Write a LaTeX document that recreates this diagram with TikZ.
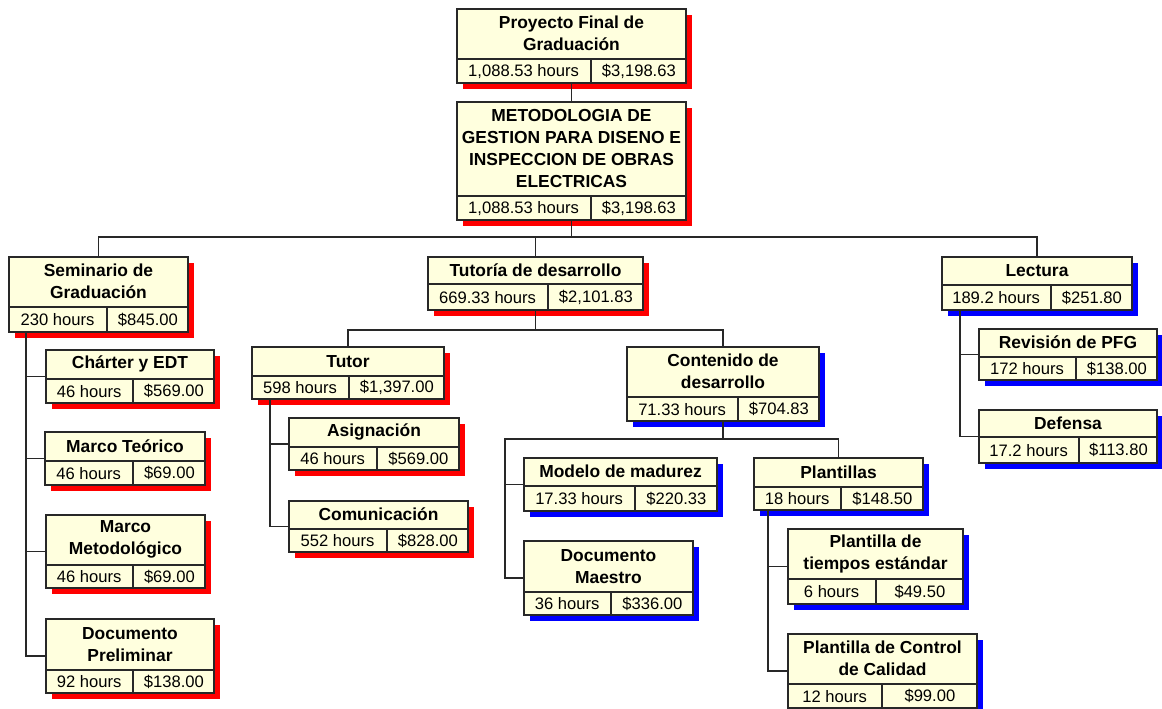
\documentclass[tikz,border=0pt]{standalone}
\usepackage{fontspec}
\setmainfont{Liberation Sans}
\usetikzlibrary{fit,shadows}

\definecolor{boxfill}{RGB}{255,255,222}
\definecolor{boxline}{RGB}{40,40,40}

\tikzset{
  wbsbox/.style={draw=boxline, line width=1.6pt, fill=boxfill, inner sep=0pt},
  redshadow/.style={general shadow={fill=red, shadow xshift=6pt, shadow yshift=-6pt}},
  blueshadow/.style={general shadow={fill=blue, shadow xshift=6pt, shadow yshift=-6pt}},
  wbstitle/.style={inner sep=0pt, align=center, font=\fontsize{17.4}{22}\selectfont\bfseries},
  wbsfig/.style={inner sep=0pt, font=\fontsize{16.6}{20}\selectfont},
  rule/.style={draw=boxline, line width=1.6pt},
  link/.style={draw=boxline, line width=1.7pt},
}

% #1 shadow style, #2 name, #3 top-left, #4 bottom-right,
% #5 y of the row rule, #6 x of the cell divider, #7 title, #8 hours, #9 cost
\newcommand\wbs[9][redshadow]{%
  \node[wbsbox, #1, fit={(#3) (#4)}] (#2) {};
  \coordinate (#2-d) at (#6,#5);
  \draw[rule] (#2.west |- #2-d) -- (#2.east |- #2-d);
  \draw[rule] (#2-d) -- (#2-d |- #2.south);
  \path (#2.north) -- (#2.north |- #2-d) node[midway, wbstitle] (#2-t) {#7};
  \path (#2.south west) -- (#2-d) node[midway, wbsfig] (#2-h) {#8};
  \path (#2-d |- #2.south) -- (#2.east |- #2-d) node[midway, wbsfig] (#2-c) {#9};
}

\begin{document}
\begin{tikzpicture}[x=1pt, y=-1pt]
\useasboundingbox (0,0) rectangle (1162,709);

% heights of the two horizontal buses
\coordinate (bus) at (0,237);
\coordinate (cbus) at (505,439);

% top levels
\wbs{p}{457,9}{686,83}{59}{591}{Proyecto Final de\\Graduación}{1,088.53 hours}{\$3,198.63}
\wbs{m}{457,102}{686,220}{196}{591}{METODOLOGIA DE\\GESTION PARA DISENO E\\INSPECCION DE OBRAS\\ELECTRICAS}{1,088.53 hours}{\$3,198.63}

% seminario branch
\wbs{sem}{9,257}{188,332}{307}{107}{Seminario de\\Graduación}{230 hours}{\$845.00}
\wbs{ch}{46,350}{214,403}{379}{133}{Chárter y EDT}{46 hours}{\$569.00}
\wbs{mt}{45,432}{205,485}{461}{133}{Marco Teórico}{46 hours}{\$69.00}
\wbs{mm}{46,515}{205,588}{565}{133}{Marco\\Metodológico}{46 hours}{\$69.00}
\wbs{dp}{46,619}{214,693}{670}{133}{Documento\\Preliminar}{92 hours}{\$138.00}

% tutoria branch
\wbs{tut}{428,257}{643,310}{284}{548}{Tutoría de desarrollo}{669.33 hours}{\$2,101.83}
\wbs{tutor}{252,347}{444,399}{376}{349}{Tutor}{598 hours}{\$1,397.00}
\wbs{asig}{289,418}{459,470}{447}{377}{Asignación}{46 hours}{\$569.00}
\wbs{com}{289,501}{468,552}{529}{387}{Comunicación}{552 hours}{\$828.00}

\wbs[blueshadow]{con}{627,347}{819,421}{397}{738}{Contenido de\\desarrollo}{71.33 hours}{\$704.83}
\wbs[blueshadow]{mod}{524,458}{717,511}{486}{635}{Modelo de madurez}{17.33 hours}{\$220.33}
\wbs[blueshadow]{dm}{524,541}{693,615}{592}{611}{Documento\\Maestro}{36 hours}{\$336.00}
\wbs[blueshadow]{pla}{754,458}{923,510}{487}{841}{Plantillas}{18 hours}{\$148.50}
\wbs[blueshadow]{pt}{788,529}{963,604}{579}{876}{Plantilla de\\tiempos estándar}{6 hours}{\$49.50}
\wbs[blueshadow]{pc}{788,634}{977,708}{684}{882}{Plantilla de Control\\de Calidad}{12 hours}{\$99.00}

% lectura branch
\wbs[blueshadow]{lec}{942,257}{1132,310}{285}{1051}{Lectura}{189.2 hours}{\$251.80}
\wbs[blueshadow]{rev}{979,329}{1157,380}{357}{1076}{Revisión de PFG}{172 hours}{\$138.00}
\wbs[blueshadow]{def}{979,410}{1157,463}{437}{1079}{Defensa}{17.2 hours}{\$113.80}

% tree links
\draw[link] (p.south) -- (m.north);
\draw[link] (m.south) -- (m.south |- bus);
\draw[link] (sem.north) -- (sem.north |- bus) -| (lec.north);
\draw[link] (tut.north) -- (tut.north |- bus);

\draw[link] ([xshift=18pt]sem.south west) |- (ch.west);
\draw[link] ([xshift=18pt]sem.south west) |- (mt.west);
\draw[link] ([xshift=18pt]sem.south west) |- (mm.west);
\draw[link] ([xshift=18pt]sem.south west) |- (dp.west);

\draw[link] (tut.south) -- ++(0,19) -| (tutor.north);
\draw[link] (tut.south) -- ++(0,19) -| (con.north);
\draw[link] ([xshift=19pt]tutor.south west) |- (asig.west);
\draw[link] ([xshift=19pt]tutor.south west) |- (com.west);

\draw[link] (con.south) -- (con.south |- cbus) -| (pla.north);
\draw[link] (con.south |- cbus) -- (cbus) |- (mod.west);
\draw[link] (cbus) |- (dm.west);
\draw[link] ([xshift=15pt]pla.south west) |- (pt.west);
\draw[link] ([xshift=15pt]pla.south west) |- (pc.west);

\draw[link] ([xshift=19pt]lec.south west) |- (rev.west);
\draw[link] ([xshift=19pt]lec.south west) |- (def.west);
\end{tikzpicture}
\end{document}
